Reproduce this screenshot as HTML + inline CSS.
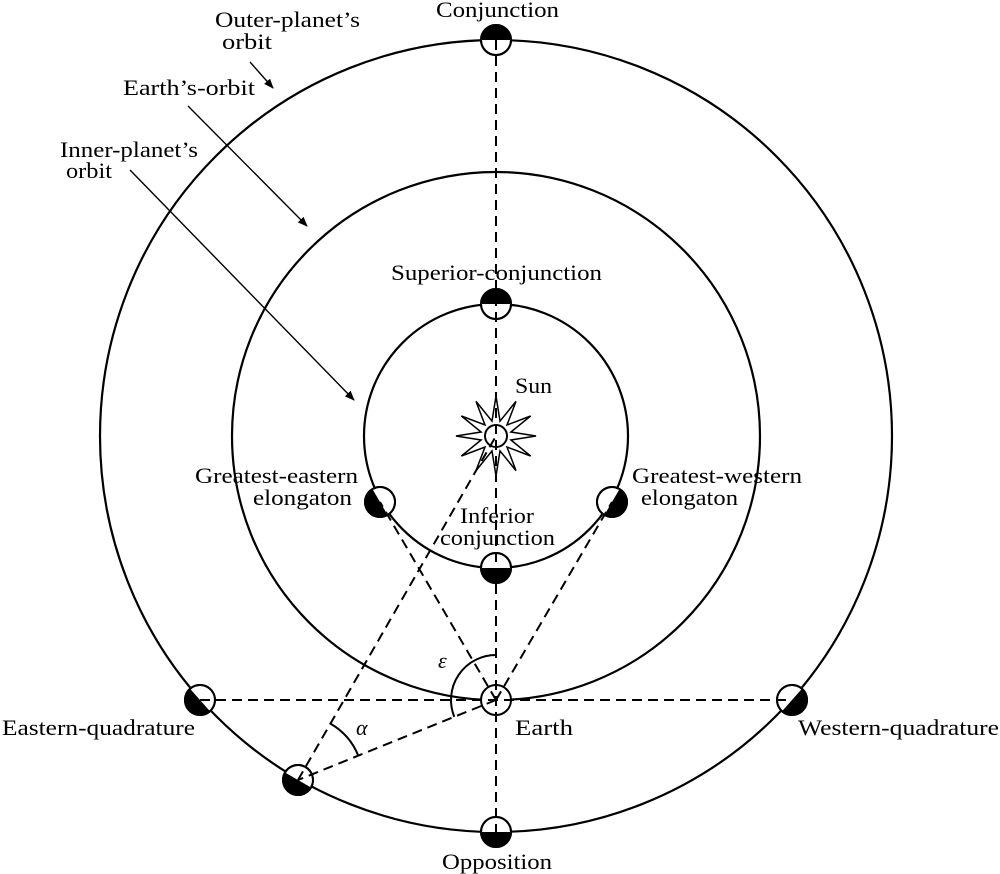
<!DOCTYPE html>
<html><head><meta charset="utf-8"><style>
html,body{margin:0;padding:0;background:#fff;}
svg{display:block;}
text{font-family:"Liberation Serif",serif;font-size:22px;fill:#000;}
</style></head><body>
<svg width="1000" height="874" viewBox="0 0 1000 874" xmlns="http://www.w3.org/2000/svg">
<defs>
<marker id="ah" markerWidth="10" markerHeight="8" refX="9" refY="4" orient="auto" markerUnits="userSpaceOnUse">
<path d="M0,0 L10,4 L0,8 Z" fill="#000"/>
</marker>
<g id="pl"><circle r="15" fill="#fff" stroke="#000" stroke-width="2"/><path d="M-15,0 A15,15 0 0 0 15,0 Z" fill="#000"/><circle r="15" fill="none" stroke="#000" stroke-width="2"/></g>
</defs>
<g fill="none" stroke="#000" stroke-width="2.2">
<circle cx="496" cy="436" r="396"/>
<circle cx="496" cy="436" r="264"/>
<circle cx="496" cy="436" r="132"/>
</g>
<polygon fill="#fff" stroke="#000" stroke-width="1.5" points="496.0,396.0 500.0,421.1 516.0,401.4 507.0,425.0 530.6,416.0 510.9,432.0 536.0,436.0 510.9,440.0 530.6,456.0 507.0,447.0 516.0,470.6 500.0,450.9 496.0,476.0 492.0,450.9 476.0,470.6 485.0,447.0 461.4,456.0 481.1,440.0 456.0,436.0 481.1,432.0 461.4,416.0 485.0,425.0 476.0,401.4 492.0,421.1"/>
<circle cx="496" cy="436" r="11" fill="#fff" stroke="#000" stroke-width="2"/>
<circle cx="496" cy="700" r="15" fill="#fff" stroke="#000" stroke-width="2"/>
<use href="#pl" transform="translate(496,40) rotate(180)"/>
<use href="#pl" transform="translate(496,304) rotate(180)"/>
<use href="#pl" transform="translate(496,568)"/>
<use href="#pl" transform="translate(496,832)"/>
<use href="#pl" transform="translate(380,502) rotate(59.6)"/>
<use href="#pl" transform="translate(612,502) rotate(-59.6)"/>
<use href="#pl" transform="translate(200,700) rotate(48.3)"/>
<use href="#pl" transform="translate(792,700) rotate(-48.3)"/>
<use href="#pl" transform="translate(298,780) rotate(29.9)"/>
<g fill="none" stroke="#000" stroke-width="2" stroke-dasharray="10,6">
<line x1="496" y1="40" x2="496" y2="834"/>
<line x1="200" y1="700" x2="792" y2="700"/>
<line x1="496" y1="700" x2="380" y2="502"/>
<line x1="496" y1="700" x2="612" y2="502"/>
<line x1="496" y1="700" x2="298" y2="780"/>
<line x1="298" y1="780" x2="496" y2="436"/>
</g>
<g fill="none" stroke="#000" stroke-width="2">
<path d="M330.4,723.6 A65,65 0 0 1 358.3,755.7"/>
<path d="M496,655 A45,45 0 0 0 454.3,716.9"/>
</g>
<g stroke="#000" stroke-width="1.4">
<line x1="250" y1="62" x2="273" y2="88" marker-end="url(#ah)"/>
<line x1="188" y1="106" x2="307" y2="226" marker-end="url(#ah)"/>
<line x1="130" y1="170" x2="354" y2="400" marker-end="url(#ah)"/>
</g>
<g>
<text x="436" y="17" textLength="123" lengthAdjust="spacingAndGlyphs">Conjunction</text>
<text x="215" y="27" textLength="145" lengthAdjust="spacingAndGlyphs">Outer-planet’s</text>
<text x="222" y="49" textLength="50" lengthAdjust="spacingAndGlyphs">orbit</text>
<text x="123" y="95" textLength="132" lengthAdjust="spacingAndGlyphs">Earth’s-orbit</text>
<text x="60" y="157" textLength="138" lengthAdjust="spacingAndGlyphs">Inner-planet’s</text>
<text x="66" y="178" textLength="46" lengthAdjust="spacingAndGlyphs">orbit</text>
<text x="391" y="280" textLength="211" lengthAdjust="spacingAndGlyphs">Superior-conjunction</text>
<text x="515" y="393" textLength="37" lengthAdjust="spacingAndGlyphs">Sun</text>
<text x="195" y="483" textLength="163" lengthAdjust="spacingAndGlyphs">Greatest-eastern</text>
<text x="253" y="505" textLength="99" lengthAdjust="spacingAndGlyphs">elongaton</text>
<text x="632" y="483" textLength="170" lengthAdjust="spacingAndGlyphs">Greatest-western</text>
<text x="641" y="505" textLength="97" lengthAdjust="spacingAndGlyphs">elongaton</text>
<text x="460" y="523" textLength="74" lengthAdjust="spacingAndGlyphs">Inferior</text>
<text x="440" y="545" textLength="115" lengthAdjust="spacingAndGlyphs">conjunction</text>
<text x="438" y="668" font-style="italic" font-size="24">ε</text>
<text x="356" y="735" font-style="italic" font-size="24">α</text>
<text x="2" y="735" textLength="193" lengthAdjust="spacingAndGlyphs">Eastern-quadrature</text>
<text x="515" y="735" textLength="58" lengthAdjust="spacingAndGlyphs">Earth</text>
<text x="798" y="735" textLength="201" lengthAdjust="spacingAndGlyphs">Western-quadrature</text>
<text x="442" y="869" textLength="110" lengthAdjust="spacingAndGlyphs">Opposition</text>
</g>
</svg>
</body></html>
